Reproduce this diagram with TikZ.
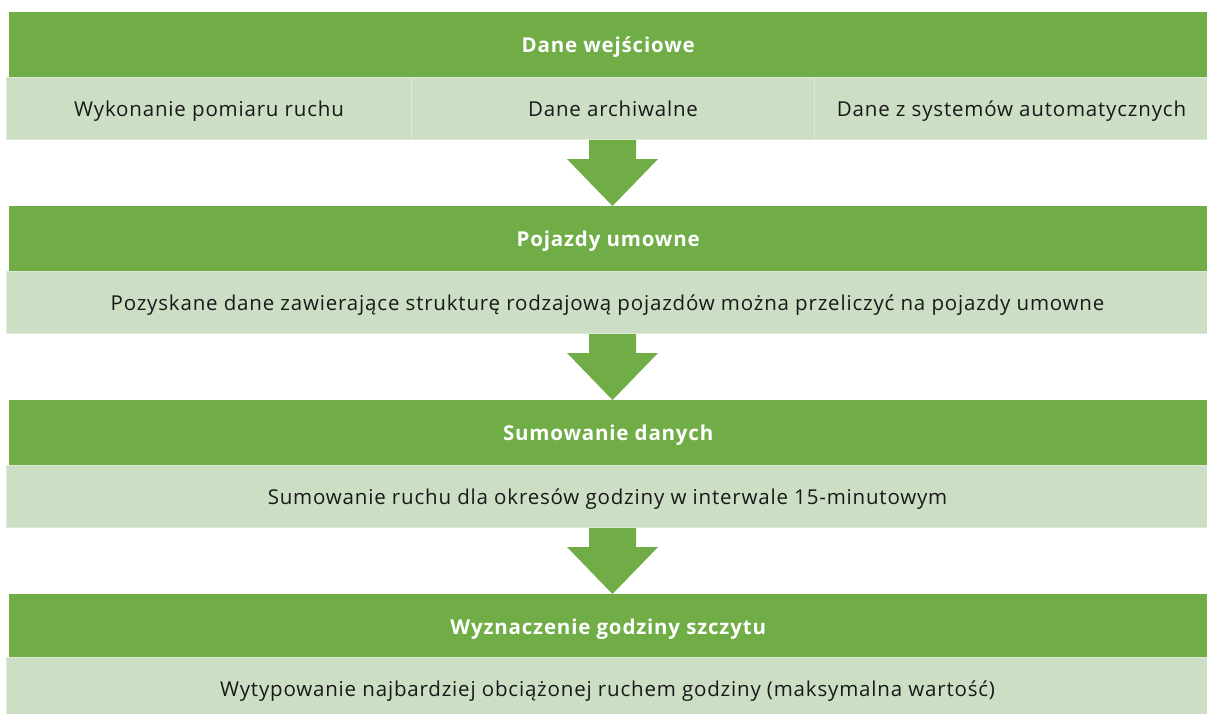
\documentclass[tikz,border=0pt]{standalone}
\usepackage{fontspec}
\setmainfont{Open Sans}[LetterSpace=4]
\usetikzlibrary{calc}
\definecolor{hdrgreen}{RGB}{112,173,71}
\definecolor{rowgreen}{RGB}{204,222,196}
\definecolor{rowline}{RGB}{222,234,216}
\tikzset{
  header/.style={fill=hdrgreen, draw=none, text=white, font=\fontsize{20.5}{24}\selectfont\bfseries,
    anchor=north west, inner sep=0pt, text height=17pt, text depth=2pt,
    minimum height=65pt, minimum width=1198pt},
  detail/.style={fill=rowgreen, draw=rowline, line width=1pt, text=black!90, font=\fontsize{20.5}{24}\selectfont,
    anchor=north west, inner sep=0pt, text height=17pt, text depth=2pt, minimum height=62pt},
  flow/.style={fill=hdrgreen, draw=none}
}
% block arrow from the centre bottom of one row to the top of the next header
\newcommand\flowarrow[2]{%
  \fill[flow] ($(#1)+(-23.5,0)$) -- ($(#1)+(23.5,0)$) -- ($(#1)+(23.5,19)$)
    -- ($(#1)+(45.5,19)$) -- (#2) -- ($(#1)+(-45.5,19)$) -- ($(#1)+(-23.5,19)$) -- cycle;}
\begin{document}
\begin{tikzpicture}[x=1pt,y=-1pt]
\useasboundingbox (0,0) rectangle (1207,713);
\coordinate (axis) at (612.5,0);

% stage 1: input data
\node[header] (h1) at (9,12) {Dane wejściowe};
\node[detail, minimum width=405pt] (d1a) at (6,77) {Wykonanie pomiaru ruchu};
\node[detail, minimum width=403pt] (d1b) at (411,77) {Dane archiwalne};
\node[detail, minimum width=394pt] (d1c) at (814,77) {Dane z systemów automatycznych};

% stage 2: passenger car units
\node[header] (h2) at (9,206) {Pojazdy umowne};
\node[detail, minimum width=1202pt] (d2) at (6,271) {Pozyskane dane zawierające strukturę rodzajową pojazdów można przeliczyć na pojazdy umowne};

% stage 3: summing
\node[header] (h3) at (9,400) {Sumowanie danych};
\node[detail, minimum width=1202pt] (d3) at (6,465) {Sumowanie ruchu dla okresów godziny w interwale 15-minutowym};

% stage 4: peak hour
\node[header] (h4) at (9,594) {Wyznaczenie godziny szczytu};
\node[detail, minimum width=1202pt, minimum height=62pt] (d4) at (6,657) {Wytypowanie najbardziej obciążonej ruchem godziny (maksymalna wartość)};

% arrows between stages
\coordinate (a1s) at (d1b.south -| axis);
\coordinate (a1e) at (h2.north -| axis);
\flowarrow{a1s}{a1e}
\coordinate (a2s) at (d2.south -| axis);
\coordinate (a2e) at (h3.north -| axis);
\flowarrow{a2s}{a2e}
\coordinate (a3s) at (d3.south -| axis);
\coordinate (a3e) at (h4.north -| axis);
\flowarrow{a3s}{a3e}
\end{tikzpicture}
\end{document}
